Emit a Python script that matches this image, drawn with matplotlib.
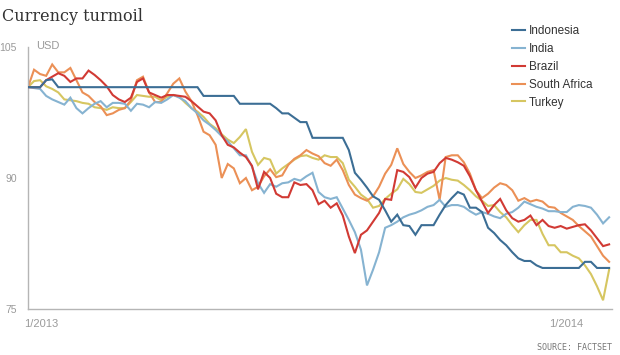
#!/usr/bin/python
# coding=utf-8

"""
Currency turmoil: emerging market currencies against the US dollar,
indexed to 100 at the start of 2013.
"""

import matplotlib
matplotlib.use("Agg")
import matplotlib.pyplot as plt
import matplotlib.transforms as mtransforms
import pandas as pd

plt.rcParams["font.family"] = ["Liberation Sans", "DejaVu Sans"]

# Data (one value every ~4 days).
start_date = "2013-01-01"
end_date   = "2014-02-09"

indonesia = [100.4, 100.4, 100.4, 101.2, 101.3, 100.4, 100.4, 100.4, 100.4, 100.4,
             100.4, 100.4, 100.4, 100.4, 100.4, 100.4, 100.4, 100.4, 100.4, 100.4,
             100.4, 100.4, 100.4, 100.4, 100.4, 100.4, 100.4, 100.4, 100.4, 99.4,
             99.4, 99.4, 99.4, 99.4, 99.4, 98.5, 98.5, 98.5, 98.5, 98.5,
             98.5, 98.0, 97.4, 97.4, 96.9, 96.4, 96.4, 94.6, 94.6, 94.6,
             94.6, 94.6, 94.6, 93.2, 90.6, 89.8, 88.9, 87.9, 87.5, 86.3,
             85.0, 85.8, 84.6, 84.5, 83.5, 84.6, 84.6, 84.6, 85.8, 86.9,
             87.7, 88.4, 88.1, 86.6, 86.6, 86.1, 84.3, 83.7, 82.9, 82.3,
             81.5, 80.8, 80.5, 80.5, 80.0, 79.7, 79.7, 79.7, 79.7, 79.7,
             79.7, 79.7, 80.4, 80.4, 79.7, 79.7, 79.7]

india = [100.4, 100.3, 100.2, 99.4, 99.0, 98.7, 98.4, 99.2, 98.0, 97.4,
         98.0, 98.5, 98.8, 98.1, 98.6, 98.6, 98.5, 97.7, 98.5, 98.4,
         98.1, 98.7, 98.6, 99.0, 99.5, 99.2, 98.8, 98.0, 97.4, 96.6,
         96.1, 95.5, 94.8, 94.2, 93.4, 92.6, 92.6, 91.3, 89.4, 88.3,
         89.3, 89.0, 89.4, 89.5, 89.9, 89.7, 90.2, 90.6, 88.4, 87.8,
         87.6, 87.8, 86.5, 85.2, 83.8, 81.8, 77.7, 79.5, 81.5, 84.3,
         84.6, 85.0, 85.5, 85.8, 86.0, 86.3, 86.7, 86.9, 87.5, 86.7,
         86.9, 86.9, 86.7, 86.2, 85.8, 86.1, 85.9, 85.6, 85.4, 85.9,
         86.1, 86.6, 87.3, 87.0, 86.7, 86.5, 86.2, 86.2, 86.1, 86.1,
         86.7, 86.9, 86.8, 86.6, 85.8, 84.8, 85.5]

brazil = [100.4, 100.4, 100.4, 101.2, 101.6, 102.0, 101.7, 101.0, 101.4, 101.4,
          102.3, 101.8, 101.2, 100.5, 99.5, 99.0, 98.7, 99.2, 101.0, 101.4,
          99.8, 99.5, 99.2, 99.5, 99.5, 99.4, 99.3, 98.8, 98.2, 97.6,
          97.4, 96.6, 94.9, 93.8, 93.5, 92.9, 92.4, 91.4, 88.7, 90.7,
          90.0, 88.2, 87.8, 87.8, 89.5, 89.2, 89.3, 88.6, 87.0, 87.4,
          86.6, 87.1, 85.7, 83.3, 81.4, 83.5, 84.0, 85.0, 86.0, 87.6,
          87.5, 90.9, 90.7, 90.1, 88.9, 90.0, 90.5, 90.7, 91.7, 92.3,
          92.1, 91.8, 91.4, 90.2, 88.6, 87.3, 86.0, 86.9, 87.6, 86.3,
          85.4, 85.0, 85.2, 85.7, 84.6, 85.2, 84.5, 84.3, 84.5, 84.2,
          84.4, 84.6, 84.7, 84.0, 83.1, 82.2, 82.4]

south_africa = [100.4, 102.4, 101.9, 101.7, 103.0, 102.1, 102.1, 102.6, 101.2, 99.8,
                99.4, 98.7, 98.2, 97.2, 97.4, 97.8, 98.0, 98.9, 101.2, 101.6,
                99.8, 98.7, 98.7, 99.7, 100.8, 101.4, 99.9, 98.8, 97.2, 95.3,
                94.9, 93.8, 90.0, 91.6, 91.1, 89.4, 90.0, 88.6, 89.0, 90.2,
                91.0, 90.1, 90.3, 91.5, 92.2, 92.6, 93.2, 92.8, 92.5, 91.7,
                91.4, 92.1, 90.9, 89.2, 88.1, 87.7, 87.4, 87.9, 89.0, 90.5,
                91.5, 93.4, 91.6, 90.7, 90.0, 90.3, 90.7, 90.9, 87.5, 92.4,
                92.6, 92.6, 91.8, 90.5, 88.6, 87.7, 88.2, 88.9, 89.4, 89.2,
                88.6, 87.4, 87.7, 87.3, 87.5, 87.3, 86.7, 86.6, 86.0, 85.6,
                85.2, 84.5, 83.9, 83.3, 82.2, 81.1, 80.4]

turkey = [100.4, 101.1, 101.2, 100.5, 100.2, 99.8, 99.0, 98.9, 98.8, 98.6,
          98.5, 98.1, 98.0, 97.8, 98.1, 98.0, 98.0, 98.7, 99.5, 99.4,
          99.3, 99.3, 98.9, 99.3, 99.5, 99.3, 98.6, 98.0, 97.6, 97.0,
          96.2, 95.7, 95.0, 94.4, 94.0, 94.7, 95.6, 93.0, 91.5, 92.3,
          92.1, 90.5, 91.1, 91.6, 92.1, 92.5, 92.6, 92.3, 92.1, 92.6,
          92.4, 92.4, 91.7, 89.8, 89.0, 88.1, 87.6, 86.6, 86.8, 87.6,
          88.2, 88.7, 89.9, 89.3, 88.4, 88.3, 88.7, 89.1, 89.7, 90.0,
          89.8, 89.7, 89.2, 88.6, 87.9, 87.4, 86.8, 86.9, 86.1, 85.5,
          84.6, 83.8, 84.6, 85.2, 85.2, 83.6, 82.3, 82.3, 81.5, 81.5,
          81.1, 80.8, 80.0, 79.0, 77.6, 76.0, 79.5]

names  = ["Indonesia", "India", "Brazil", "South Africa", "Turkey"]
series = [indonesia, india, brazil, south_africa, turkey]
colors = ["#3c6e95", "#86b3d1", "#d13a34", "#eb9056", "#d6c661"]
zorder = [5, 3, 4, 2, 1]

y_ticks   = [75, 90, 105]
x_ticks   = ["2013-01-01", "2014-01-01"]
x_labels  = ["1/2013", "1/2014"]

dates = pd.date_range(start_date, end_date, periods=len(indonesia))

# Figure: 620 x 355 pixels.
fig = plt.figure(figsize=(6.2, 3.55), dpi=100)
ax  = fig.add_axes([28 / 620, 46 / 355, 584 / 620, 262 / 355])

for name, values, color, z in zip(names, series, colors, zorder):
    ax.plot(dates, values, color=color, linewidth=1.5, label=name,
            zorder=z, solid_joinstyle="miter")

ax.set_ylim(75, 105)
ax.set_xlim(pd.Timestamp("2013-01-01"), pd.Timestamp("2014-02-11"))

for side in ["top", "right"]:
    ax.spines[side].set_visible(False)
for side in ["left", "bottom"]:
    ax.spines[side].set_color("#b5b5b5")
    ax.spines[side].set_linewidth(1.0)

ax.set_yticks(y_ticks)
ax.set_yticklabels([str(t) for t in y_ticks])
ax.tick_params(axis="y", length=0, pad=8, labelsize=7.5, labelcolor="#9a9a9a")

# Small cross tick at the top of the value axis.
ax.set_yticks([105], minor=True)
ax.tick_params(axis="y", which="minor", direction="inout", length=8,
               width=1, color="#b5b5b5")

ax.set_xticks([pd.Timestamp(d) for d in x_ticks])
ax.set_xticklabels(x_labels)
ax.tick_params(axis="x", length=0, pad=7, labelsize=8, labelcolor="#9a9a9a")
shift = mtransforms.ScaledTranslation(-4 / 100, 0, fig.dpi_scale_trans)
for label in ax.get_xticklabels():
    label.set_horizontalalignment("left")
    label.set_transform(label.get_transform() + shift)

fig.text(36 / 620, 1 - 46 / 355, "USD", ha="left", va="center",
         fontsize=8, color="#9a9a9a")

fig.text(2 / 620, 1 - 8 / 355, "Currency turmoil", ha="left", va="top",
         family="DejaVu Serif", fontsize=11.5, color="#333333")

fig.text(612 / 620, 1 - 348 / 355, "SOURCE: FACTSET", ha="right", va="center",
         family="DejaVu Sans Mono", fontsize=6, color="#777777")

fig.legend(loc="upper left", bbox_to_anchor=(512 / 620, 1 - 25 / 355),
           frameon=False, fontsize=8.5, handlelength=1.1, handletextpad=0.35,
           labelspacing=0.5, borderpad=0, borderaxespad=0, labelcolor="#333333")

plt.savefig("out.png", dpi=100)
